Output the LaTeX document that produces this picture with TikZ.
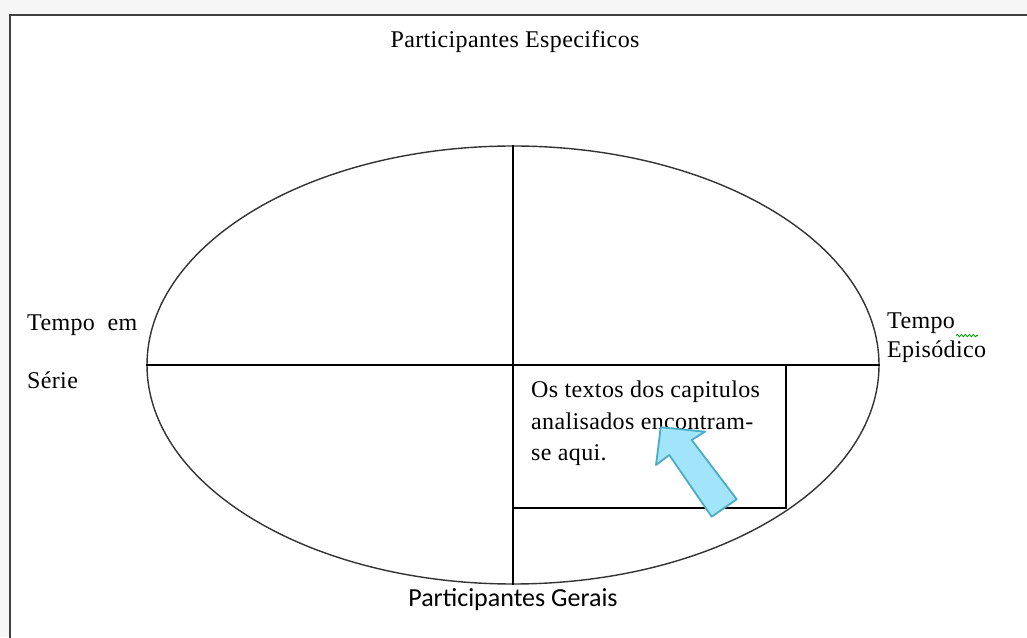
\documentclass[tikz,border=0pt]{standalone}
\usepackage{fontspec}
\setmainfont[LetterSpace=1.5]{Liberation Serif}
\newfontfamily\calibri{Carlito}
\usetikzlibrary{shapes.geometric,decorations.pathmorphing}
\tikzset{
    label text/.style = {inner sep=0pt, font=\fontsize{24}{31.5}\selectfont},
    division/.style = {line width=1.3pt, black},
}
\begin{document}
\begin{tikzpicture}[x=1pt, y=1pt]
    \def\esp{Participantes Especificos}
    \def\ger{{\calibri Participantes Gerais}}
    \useasboundingbox (0,0) rectangle (1027,637);
    \fill[gray!7] (0,0) rectangle (1027,637);
    \filldraw[fill=white, draw=black!75, line width=2pt] (10,-10) rectangle (1040,622);
    \node[ellipse, draw=black!80, line width=1.4pt, inner sep=0pt,
          minimum width=732, minimum height=438] (oval) at (513,272) {};
    \draw[division] (oval.north) -- (oval.south);
    \draw[division] (oval.west) -- (oval.east);
    \draw[division] (oval.center) rectangle ++(273,-143) coordinate (box);
    \node[label text, anchor=north west, align=left] (note) at (531,256)
        {Os textos dos capitulos\\analisados encontram-\\se aqui.};
    \node[label text] (top) at (515,595) {\esp};
    \node[label text, font=\fontsize{26}{31}\selectfont] (bottom) at (513,37) {\ger};
    \node[label text, anchor=west] (serie1) at (27,312) {Tempo\ \ em};
    \node[label text, anchor=west] (serie2) at (27,257) {Série};
    \node[label text, anchor=west] (epi1) at (887,314) {Tempo};
    \node[label text, anchor=west] (epi2) at (887,285) {Episódico};
    \draw[green!60!black, line width=0.8pt, decorate,
          decoration={snake, amplitude=1.2pt, segment length=4pt}]
        ([xshift=1pt, yshift=-2pt]epi1.south east) -- ++(22,0);
    % arrow
    \filldraw[fill={rgb,255:red,162;green,229;blue,250},
              draw={rgb,255:red,75;green,172;blue,198}, line width=1.8pt, line join=round]
        (660.7,209.7) -- (656,172) -- (669.3,182) -- (711.7,120.3)
        -- (736.7,137.7) -- (691.7,197) -- (705,205.3) -- cycle;
\end{tikzpicture}
\end{document}
